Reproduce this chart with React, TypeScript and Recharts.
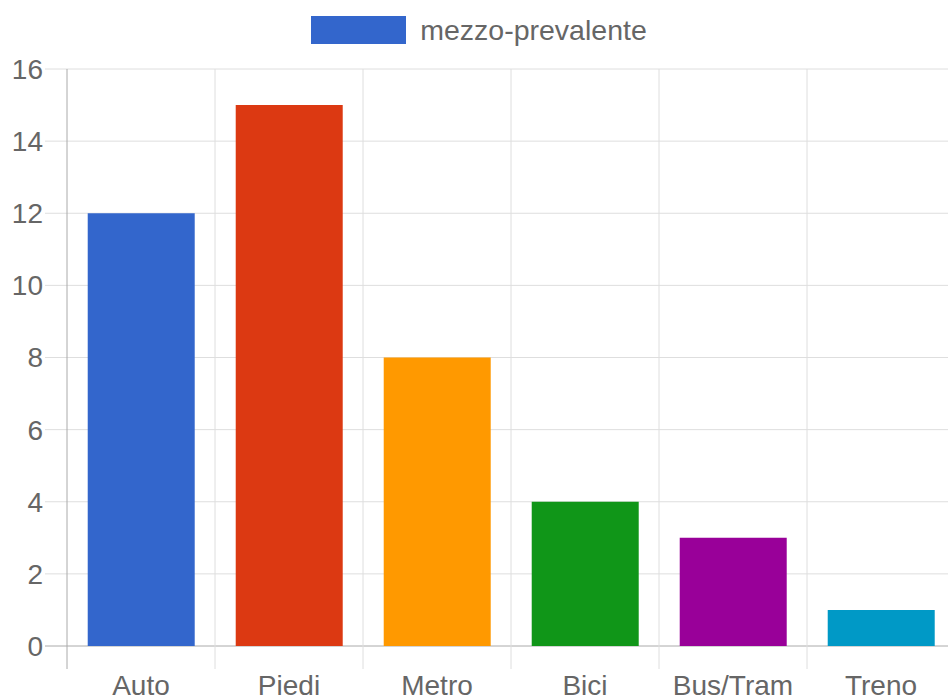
import React from "react";
import { Bar, BarChart, CartesianGrid, Cell, Legend, XAxis, YAxis } from "recharts";

const categories = ["Auto", "Piedi", "Metro", "Bici", "Bus/Tram", "Treno"];
const values = [12, 15, 8, 4, 3, 1];
const colors = ["#3366CC", "#DC3912", "#FF9900", "#109618", "#990099", "#0099C6"];
const yTicks = [0, 2, 4, 6, 8, 10, 12, 14, 16];
const seriesName = "mezzo-prevalente";

const data = categories.map((name, i) => ({ name, value: values[i] }));

const W = 958;
const H = 700;
const PLOT_LEFT = 67;
const PLOT_TOP = 69;
const PLOT_BOTTOM = 646;
const GRID = "#dedede";
const AXIS = "#aaaaaa";
const TEXT = "#666";
const FONT = "'Liberation Sans', Arial, sans-serif";

const hLine = (p: any) => (
  <line
    key={p.key}
    x1={p.x1}
    y1={p.y1}
    x2={p.x2}
    y2={p.y2}
    stroke={Math.abs(p.y1 - PLOT_BOTTOM) < 1 ? AXIS : GRID}
    strokeWidth={1}
  />
);

const vLine = (p: any) => (
  <line
    key={p.key}
    x1={p.x1}
    y1={p.y1}
    x2={p.x2}
    y2={p.y2}
    stroke={Math.abs(p.x1 - PLOT_LEFT) < 1 ? AXIS : GRID}
    strokeWidth={1}
  />
);

const LegendContent = () => (
  <div
    style={{
      display: "flex",
      justifyContent: "center",
      alignItems: "center",
      height: 28,
      fontFamily: FONT,
    }}
  >
    <span style={{ width: 95, height: 28, background: colors[0], display: "inline-block" }} />
    <span style={{ marginLeft: 14, fontSize: 28.5, color: TEXT, lineHeight: "28px" }}>
      {seriesName}
    </span>
  </div>
);

const App = () => {
  return (
    <div
      style={{
        position: "fixed",
        top: 0,
        left: 0,
        width: 948,
        height: 698,
        overflow: "hidden",
        background: "#fff",
      }}
    >
      <BarChart
        width={W}
        height={H}
        data={data}
        margin={{ top: PLOT_TOP - 28, right: 3, bottom: 0, left: 0 }}
        barCategoryGap="14%"
        style={{ fontFamily: FONT }}
      >
        <CartesianGrid
          x={45}
          y={PLOT_TOP}
          width={W - 3 - 45}
          height={PLOT_BOTTOM - PLOT_TOP + 23}
          horizontal={hLine}
          vertical={vLine}
          verticalCoordinatesGenerator={({ offset }: any) =>
            [...categories, ""].map(
              (_, i) => offset.left + (i * offset.width) / categories.length
            )
          }
        />
        <XAxis
          dataKey="name"
          interval={0}
          axisLine={false}
          tickLine={false}
          tickSize={0}
          tickMargin={29}
          height={H - PLOT_BOTTOM}
          tick={{ fill: TEXT, fontSize: 28 }}
        />
        <YAxis
          domain={[0, 16]}
          ticks={yTicks}
          axisLine={false}
          tickLine={false}
          tickSize={0}
          tickMargin={24}
          width={PLOT_LEFT}
          tick={{ fill: TEXT, fontSize: 28 }}
        />
        <Legend
          verticalAlign="top"
          align="center"
          wrapperStyle={{ top: 16, left: 0, width: W, height: 28 }}
          content={() => <LegendContent />}
        />
        <Bar dataKey="value" name={seriesName} isAnimationActive={false}>
          {data.map((d, i) => (
            <Cell key={d.name} fill={colors[i]} />
          ))}
        </Bar>
      </BarChart>
    </div>
  );
};

export default App;
